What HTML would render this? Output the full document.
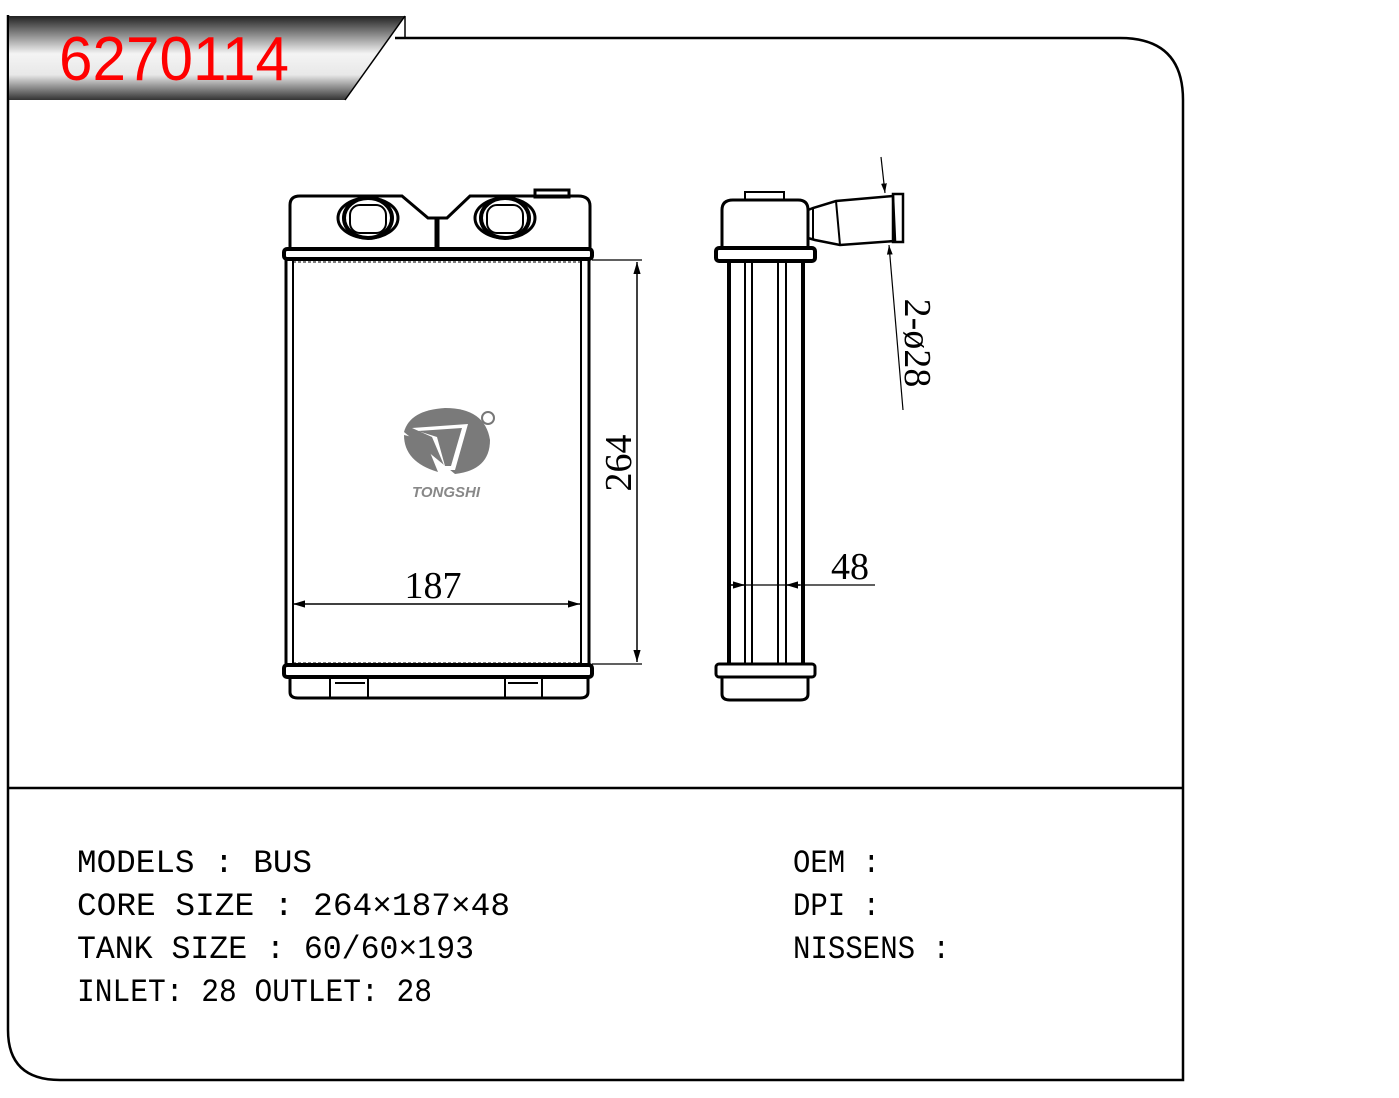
<!DOCTYPE html>
<html><head><style>
body{margin:0;background:#fff;}
svg{display:block;}
.t{font-family:"Liberation Mono","DejaVu Sans Mono",monospace;font-size:32px;fill:#000;}
.d{font-family:"Liberation Serif",serif;font-size:38px;fill:#000;}
</style></head><body>
<svg width="1399" height="1098" viewBox="0 0 1399 1098" xmlns="http://www.w3.org/2000/svg">
<defs>
<linearGradient id="g" x1="0" y1="0" x2="0" y2="1">
<stop offset="0" stop-color="#222"/><stop offset="0.45" stop-color="#f4f4f4"/><stop offset="0.7" stop-color="#e8e8e8"/><stop offset="1" stop-color="#333"/>
</linearGradient>
<marker id="a" viewBox="0 0 10 10" refX="10" refY="5" markerWidth="8" markerHeight="8" orient="auto-start-reverse"><path d="M0,2L10,5L0,8z" fill="#000"/></marker>
</defs>
<path d="M8,15 V1030 Q8,1080 60,1080 H1183 V100 Q1183,38 1120,38 H395" fill="none" stroke="#000" stroke-width="2.5"/>
<line x1="8" y1="788" x2="1183" y2="788" stroke="#000" stroke-width="2.5"/>
<polygon points="9,16 405,16 345,100 9,100" fill="url(#g)"/>
<line x1="405" y1="16" x2="345" y2="100" stroke="#000" stroke-width="1.5"/>
<line x1="405" y1="16" x2="405" y2="38" stroke="#000" stroke-width="1.5"/>
<text x="59" y="80" font-family="Liberation Sans,sans-serif" font-size="62" fill="#f00" textLength="230" lengthAdjust="spacingAndGlyphs">6270114</text>
<g fill="none" stroke="#000" stroke-width="3">
<path d="M290,250 V205 Q290,196 300,196 H402 L428,218 H447 L470,196 H578 Q590,196 590,206 V250"/>
<rect x="535" y="190" width="34" height="7"/>
<line x1="437" y1="218" x2="437" y2="250" stroke-width="5"/>
<ellipse cx="368" cy="218" rx="30" ry="20"/><ellipse cx="368" cy="218" rx="24" ry="20" stroke-width="4"/><rect x="350" y="205" width="36" height="28" rx="10" stroke-width="2"/>
<ellipse cx="505" cy="218" rx="30" ry="20"/><ellipse cx="505" cy="218" rx="24" ry="20" stroke-width="4"/><rect x="487" y="205" width="36" height="28" rx="10" stroke-width="2"/>
<rect x="284" y="249" width="308" height="10" rx="3" stroke-width="4"/>
<line x1="286" y1="259" x2="286" y2="666"/><line x1="293" y1="259" x2="293" y2="666" stroke-width="2"/>
<line x1="589" y1="259" x2="589" y2="666"/><line x1="581" y1="259" x2="581" y2="666" stroke-width="2"/>
<line x1="293" y1="262" x2="581" y2="262" stroke-width="1" stroke-dasharray="3,2"/>
<line x1="293" y1="663" x2="581" y2="663" stroke-width="1" stroke-dasharray="3,2"/>
<rect x="284" y="665" width="308" height="12" rx="3" stroke-width="4"/>
<path d="M290,677 V692 Q290,698 298,698 H580 Q588,698 588,692 V677"/>
<path d="M330,677 V698 M368,677 V698 M335,683 H365 M505,677 V698 M542,677 V698 M508,683 H538" stroke-width="2"/>
</g>
<line x1="592" y1="260" x2="642" y2="260" stroke="#000" stroke-width="1.2"/>
<line x1="592" y1="664" x2="642" y2="664" stroke="#000" stroke-width="1.2"/>
<line x1="637" y1="262" x2="637" y2="662" stroke="#000" stroke-width="1.5" marker-start="url(#a)" marker-end="url(#a)"/>
<text class="d" transform="translate(631,463) rotate(-90)" text-anchor="middle">264</text>
<line x1="293" y1="604" x2="580" y2="604" stroke="#000" stroke-width="1.5" marker-start="url(#a)" marker-end="url(#a)"/>
<text class="d" x="433" y="598" text-anchor="middle">187</text>
<g fill="#7a7a7a">
<path d="M404,432 Q410,410 445,408 Q485,408 490,440 Q490,470 455,474 Z"/>
<path d="M404,435 Q404,462 438,472 L425,440 Z"/>
</g>
<polygon points="412,428 468,424 455,470 446,470 432,437" fill="#fff"/>
<polygon points="418,431 462,428 451,466 445,466 437,437" fill="#7a7a7a"/>
<circle cx="488" cy="418" r="6" fill="none" stroke="#777" stroke-width="2"/>
<text x="446" y="497" font-family="Liberation Sans,sans-serif" font-size="15" font-weight="bold" font-style="italic" fill="#888" text-anchor="middle">TONGSHI</text>
<g fill="none" stroke="#000" stroke-width="3">
<path d="M722,249 V210 Q722,200 733,200 H798 Q808,200 808,210 V249"/>
<rect x="745" y="192" width="39" height="8" stroke-width="2"/>
<rect x="716" y="248" width="99" height="13" rx="3" stroke-width="4"/>
<line x1="729" y1="261" x2="729" y2="665" stroke-width="4"/>
<line x1="745" y1="261" x2="745" y2="665" stroke-width="2"/><line x1="752" y1="261" x2="752" y2="665" stroke-width="2"/>
<line x1="778" y1="261" x2="778" y2="665" stroke-width="2"/><line x1="786" y1="261" x2="786" y2="665" stroke-width="2"/>
<line x1="803" y1="261" x2="803" y2="665" stroke-width="4"/>
<rect x="716" y="664" width="99" height="13" rx="3" stroke-width="3"/>
<path d="M722,677 V694 Q722,700 730,700 H800 Q808,700 808,694 V677"/>
<path d="M808,210 L813,208 L836,201 L893,196 L895,241 L840,245 L815,240 L808,238" stroke-width="2.5"/>
<line x1="813" y1="208" x2="813" y2="240" stroke-width="2"/>
<line x1="836" y1="201" x2="840" y2="245" stroke-width="2"/>
<rect x="893" y="194" width="10" height="48" stroke-width="2.5"/>
</g>
<line x1="881" y1="157" x2="885" y2="193" stroke="#000" stroke-width="1.2" marker-end="url(#a)"/>
<line x1="903" y1="410" x2="889" y2="245" stroke="#000" stroke-width="1.2" marker-end="url(#a)"/>
<text class="d" transform="translate(905,343) rotate(90)" text-anchor="middle">2-ø28</text>
<line x1="729" y1="585" x2="875" y2="585" stroke="#000" stroke-width="1.2"/>
<line x1="731" y1="585" x2="745" y2="585" stroke="#000" stroke-width="1.5" marker-end="url(#a)"/>
<line x1="800" y1="585" x2="786" y2="585" stroke="#000" stroke-width="1.5" marker-end="url(#a)"/>
<text class="d" x="850" y="579" text-anchor="middle">48</text>
<text class="t" x="77" y="872" textLength="235" lengthAdjust="spacingAndGlyphs">MODELS :  BUS</text>
<text class="t" x="77" y="915" textLength="433" lengthAdjust="spacingAndGlyphs">CORE SIZE : 264×187×48</text>
<text class="t" x="77" y="958" textLength="397" lengthAdjust="spacingAndGlyphs">TANK SIZE : 60/60×193</text>
<text class="t" x="77" y="1001" textLength="355" lengthAdjust="spacingAndGlyphs">INLET: 28 OUTLET: 28</text>
<text class="t" x="793" y="872" textLength="87" lengthAdjust="spacingAndGlyphs">OEM :</text>
<text class="t" x="793" y="915" textLength="87" lengthAdjust="spacingAndGlyphs">DPI :</text>
<text class="t" x="793" y="958" textLength="157" lengthAdjust="spacingAndGlyphs">NISSENS :</text>
</svg>
</body></html>
